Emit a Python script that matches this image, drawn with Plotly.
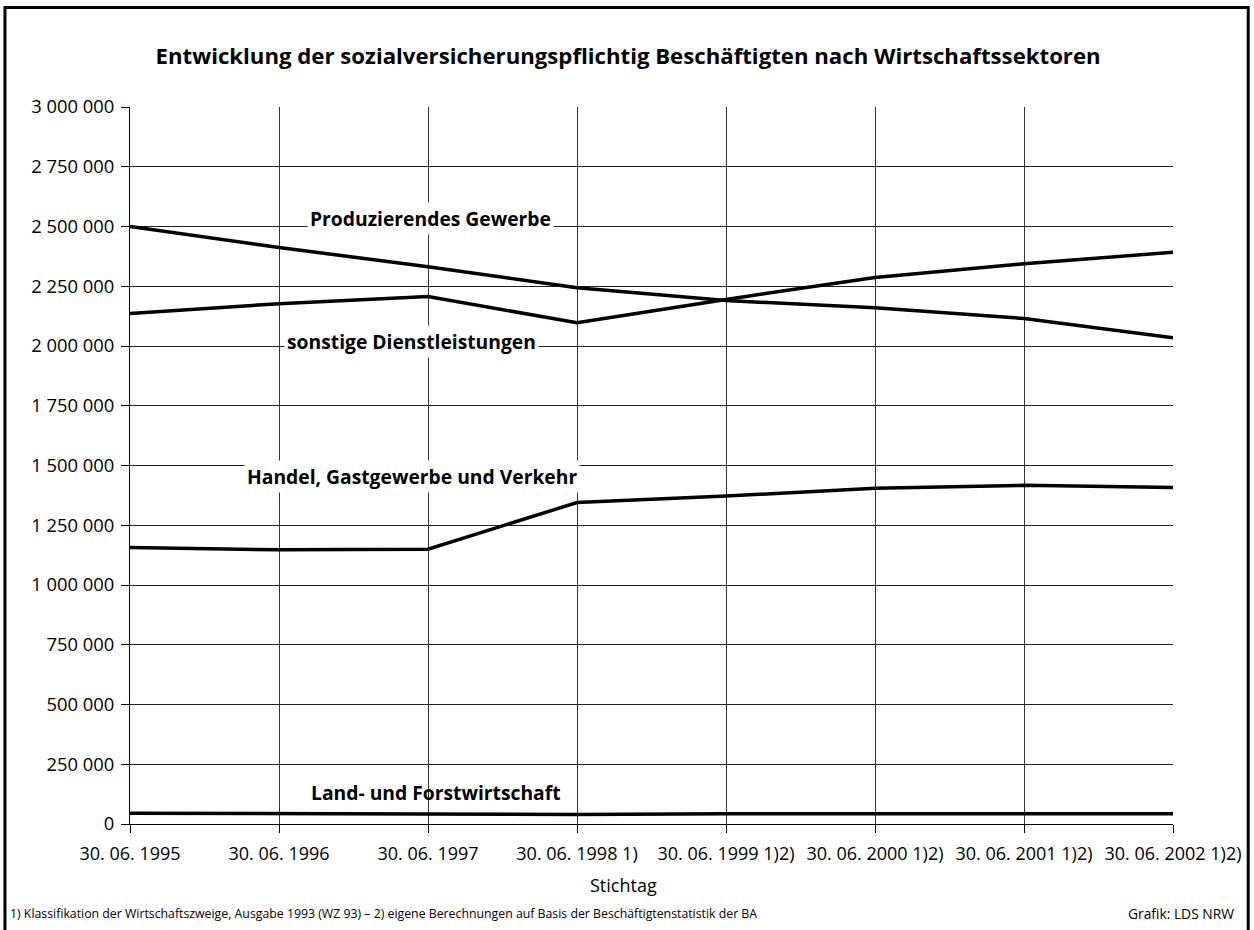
import plotly.graph_objects as go

categories = ["30. 06. 1995", "30. 06. 1996", "30. 06. 1997", "30. 06. 1998 1)",
              "30. 06. 1999 1)2)", "30. 06. 2000 1)2)", "30. 06. 2001 1)2)", "30. 06. 2002 1)2)"]

produzierendes = [2500000, 2412000, 2332000, 2244000, 2190000, 2160000, 2115000, 2035000]
dienstleistungen = [2136000, 2177000, 2207000, 2097000, 2195000, 2287000, 2344000, 2392000]
handel = [1157000, 1147000, 1150000, 1345000, 1372000, 1405000, 1417000, 1408000]
land = [45000, 43000, 42000, 40000, 43000, 44000, 43000, 43000]

series = [
    ("Produzierendes Gewerbe", produzierendes),
    ("sonstige Dienstleistungen", dienstleistungen),
    ("Handel, Gastgewerbe und Verkehr", handel),
    ("Land- und Forstwirtschaft", land),
]

FONT = "Open Sans"

fig = go.Figure()
for name, vals in series:
    fig.add_trace(go.Scatter(
        x=list(range(len(categories))), y=vals, mode="lines", name=name,
        line=dict(color="black", width=3.5), hoverinfo="y+name"))

W, H = 1254, 930
L, R, T, B = 130, 77, 107, 106
pw, ph = W - L - R, H - T - B

def px(x):
    return (x - L) / pw

def py(y):
    return (H - B - y) / ph

fig.update_layout(
    width=W, height=H,
    margin=dict(l=L, r=R, t=T, b=B),
    paper_bgcolor="white", plot_bgcolor="white",
    showlegend=False,
    separators=", ",
    font=dict(family=FONT, size=18, color="black"),
    title=dict(text="<b>Entwicklung der sozialversicherungspflichtig Beschäftigten nach Wirtschaftssektoren</b>",
               x=px(630), xref="paper", y=1 - 56 / H, yref="container", xanchor="center", yanchor="middle",
               font=dict(family=FONT, size=22.2, color="black")),
    xaxis=dict(
        tickmode="array", tickvals=list(range(len(categories))), ticktext=categories,
        range=[0, len(categories) - 1], showgrid=True, gridcolor="#333", gridwidth=1,
        showline=True, linecolor="black", linewidth=1,
        ticks="outside", ticklen=8, tickcolor="black", tickangle=0,
        ticklabelstandoff=5,
        tickfont=dict(family=FONT, size=18),
        zeroline=False, fixedrange=True),
    yaxis=dict(
        range=[0, 3000000], dtick=250000, tick0=0, tickformat=",d",
        showgrid=True, gridcolor="#222", gridwidth=1,
        showline=True, linecolor="black", linewidth=1,
        ticks="outside", ticklen=8, tickcolor="black",
        ticklabelstandoff=3,
        tickfont=dict(family=FONT, size=18.4),
        zeroline=False, fixedrange=True),
)

# outer frame
fig.add_shape(type="rect", xref="paper", yref="paper",
              x0=px(4.5), x1=px(1252.5), y0=py(945), y1=py(7.5),
              line=dict(color="black", width=3), fillcolor="rgba(0,0,0,0)", layer="above")

# line labels
labels = [
    ("Produzierendes Gewerbe", 432, 219, True),
    ("sonstige Dienstleistungen", 413, 341, True),
    ("Handel, Gastgewerbe und Verkehr", 413, 476, True),
    ("Land- und Forstwirtschaft", 437, 792, False),
]
for text, x, y, bg in labels:
    fig.add_annotation(text="<b>" + text + "</b>", xref="paper", yref="paper",
                       x=px(x), y=py(y), xanchor="center", yanchor="middle", showarrow=False,
                       font=dict(family=FONT, size=19.3, color="black"),
                       bgcolor="white" if bg else "rgba(0,0,0,0)", borderpad=2)

fig.add_annotation(text="Stichtag", xref="paper", yref="paper", x=px(625), y=py(885),
                   xanchor="center", yanchor="middle", showarrow=False,
                   font=dict(family=FONT, size=18, color="black"))
fig.add_annotation(text="1) Klassifikation der Wirtschaftszweige, Ausgabe 1993 (WZ 93) – 2) eigene Berechnungen auf Basis der Beschäftigtenstatistik der BA",
                   xref="paper", yref="paper", x=px(8), y=py(913), xanchor="left", yanchor="middle",
                   showarrow=False, font=dict(family=FONT, size=12.3, color="black"))
fig.add_annotation(text="Grafik: LDS NRW",
                   xref="paper", yref="paper", x=px(1240), y=py(913), xanchor="right", yanchor="middle",
                   showarrow=False, font=dict(family=FONT, size=13.8, color="black"))

fig.write_html("out.html", config={"displayModeBar": False},
               post_script="document.body.style.margin='0';document.body.style.overflow='hidden';")
